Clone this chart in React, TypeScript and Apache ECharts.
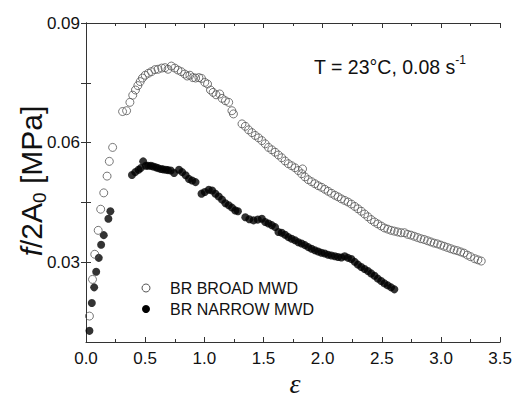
import React, { useEffect, useRef } from "react";
import * as echarts from "echarts";

const xTickLabels = ["0.0", "0.5", "1.0", "1.5", "2.0", "2.5", "3.0", "3.5"];
const yTickLabels = ["0.03", "0.06", "0.09"];
const yMinorTicks = [0.045, 0.075];
const seriesNames = ["BR BROAD MWD", "BR NARROW MWD"];
const annotation = "T = 23°C, 0.08 s";
const annotationSup = "-1";

const broadMWD: [number, number][] = [
  [0.029, 0.0165], [0.055, 0.0257], [0.074, 0.032], [0.103, 0.038], [0.124, 0.0433],
  [0.15, 0.0474], [0.178, 0.0516], [0.197, 0.0553], [0.225, 0.0588],
  [0.309, 0.0678], [0.343, 0.068], [0.371, 0.0701], [0.395, 0.0719], [0.418, 0.0732],
  [0.438, 0.0743], [0.458, 0.0753], [0.477, 0.0762], [0.5, 0.0769], [0.528, 0.0774],
  [0.553, 0.0778], [0.582, 0.0783], [0.609, 0.0784], [0.64, 0.0787], [0.668, 0.0788],
  [0.693, 0.0784], [0.721, 0.0792], [0.75, 0.0787], [0.777, 0.0782], [0.805, 0.0778],
  [0.834, 0.0772], [0.855, 0.0767], [0.878, 0.0769], [0.903, 0.0763], [0.926, 0.0762],
  [0.954, 0.0763], [0.976, 0.0761], [1.004, 0.0751], [1.027, 0.0747], [1.052, 0.0732],
  [1.074, 0.0726], [1.099, 0.072], [1.13, 0.0722], [1.15, 0.0711], [1.178, 0.0705],
  [1.206, 0.0701], [1.233, 0.068], [1.246, 0.0672], [1.318, 0.0647], [1.346, 0.0641],
  [1.374, 0.0632], [1.402, 0.0625], [1.43, 0.0618], [1.458, 0.0612], [1.486, 0.0605],
  [1.514, 0.0597], [1.542, 0.0588], [1.57, 0.0582], [1.598, 0.0576], [1.626, 0.0569],
  [1.654, 0.0562], [1.682, 0.0554], [1.71, 0.0547], [1.738, 0.0542], [1.766, 0.0537],
  [1.794, 0.053], [1.822, 0.0522], [1.83, 0.0534], [1.85, 0.0514], [1.878, 0.0507],
  [1.906, 0.0502], [1.934, 0.0497], [1.962, 0.0492], [1.99, 0.0488], [2.018, 0.0483],
  [2.046, 0.0478], [2.074, 0.0473], [2.103, 0.0468], [2.13, 0.0464], [2.158, 0.0459],
  [2.186, 0.0455], [2.214, 0.0451], [2.242, 0.0446], [2.271, 0.044], [2.298, 0.0434],
  [2.326, 0.0428], [2.354, 0.0421], [2.382, 0.0414], [2.41, 0.0407], [2.438, 0.0401],
  [2.466, 0.0396], [2.494, 0.0391], [2.522, 0.0386], [2.55, 0.0383], [2.578, 0.038],
  [2.606, 0.0378], [2.634, 0.0376], [2.662, 0.0374], [2.691, 0.0374], [2.718, 0.037],
  [2.746, 0.0368], [2.774, 0.0365], [2.802, 0.0362], [2.83, 0.0359], [2.858, 0.0357],
  [2.886, 0.0354], [2.914, 0.0351], [2.942, 0.0348], [2.97, 0.0346], [2.998, 0.0343],
  [3.026, 0.034], [3.054, 0.0337], [3.082, 0.0334], [3.11, 0.0331], [3.138, 0.0329],
  [3.166, 0.0326], [3.194, 0.0323], [3.223, 0.0318], [3.25, 0.0314], [3.284, 0.0309],
  [3.312, 0.0306], [3.34, 0.0303],
];

const narrowMWD: [number, number][] = [
  [0.029, 0.0128], [0.049, 0.0198], [0.069, 0.0237], [0.086, 0.0276], [0.108, 0.0311],
  [0.128, 0.0344], [0.15, 0.0368], [0.189, 0.0409], [0.206, 0.0428],
  [0.388, 0.0519], [0.416, 0.0526], [0.444, 0.0532], [0.462, 0.0536], [0.483, 0.0553],
  [0.506, 0.0542], [0.525, 0.0542], [0.548, 0.0542], [0.567, 0.054], [0.59, 0.0538],
  [0.609, 0.0536], [0.632, 0.0534], [0.651, 0.0533], [0.674, 0.0532], [0.693, 0.0531],
  [0.716, 0.053], [0.744, 0.0524],
  [0.786, 0.0532], [0.813, 0.0526], [0.842, 0.0518], [0.87, 0.0509], [0.897, 0.0505],
  [0.926, 0.0501],
  [0.976, 0.0472], [1.004, 0.0476], [1.038, 0.0482], [1.066, 0.048], [1.094, 0.0472],
  [1.122, 0.0465], [1.15, 0.0457], [1.178, 0.0448], [1.206, 0.0443], [1.234, 0.0437],
  [1.262, 0.043], [1.284, 0.0428],
  [1.346, 0.0413], [1.38, 0.0408], [1.416, 0.0405], [1.452, 0.0407], [1.486, 0.0409],
  [1.514, 0.0401], [1.542, 0.0397], [1.57, 0.0393], [1.598, 0.0388], [1.626, 0.0376],
  [1.654, 0.0374], [1.682, 0.0369], [1.71, 0.0363], [1.738, 0.0359], [1.766, 0.0355],
  [1.794, 0.035], [1.822, 0.0347], [1.85, 0.0343], [1.878, 0.0338], [1.906, 0.0334],
  [1.934, 0.033], [1.962, 0.0327], [1.99, 0.0324], [2.018, 0.0322], [2.046, 0.0319],
  [2.074, 0.0317], [2.103, 0.0315], [2.13, 0.0313], [2.158, 0.0312], [2.186, 0.0315],
  [2.214, 0.0311], [2.242, 0.0308], [2.271, 0.0301], [2.298, 0.0294], [2.326, 0.0288],
  [2.354, 0.0283], [2.382, 0.0278], [2.41, 0.0272], [2.438, 0.0266], [2.466, 0.0259],
  [2.494, 0.0253], [2.522, 0.0247], [2.55, 0.0242], [2.578, 0.0237], [2.606, 0.0232],
];

const FONT = "'Liberation Sans', Arial, sans-serif";
const AXIS_COLOR = "#333";
const OPEN_STROKE = "#555";

export default function App() {
  const ref = useRef<HTMLDivElement>(null);
  useEffect(() => {
    if (!ref.current) return;
    const chart = echarts.init(ref.current, null, { renderer: "svg" });
    const yMajor = yTickLabels.map(Number);
    const yTicks = [...yMajor, ...yMinorTicks].sort((a, b) => a - b);
    const tickStyle = { show: true, inside: true, length: 5, lineStyle: { color: AXIS_COLOR, width: 1 } };
    const minorStyle = { show: true, splitNumber: 2, length: 3, lineStyle: { color: AXIS_COLOR, width: 1 } };
    const lineStyle = { show: true, lineStyle: { color: AXIS_COLOR, width: 1 } };
    const legendText = (y: number, text: string) => ({
      type: "text",
      x: 170,
      y,
      style: { text, fontFamily: FONT, fontSize: 16, fill: "#111", align: "left", verticalAlign: "middle" },
    });
    chart.setOption({
      animation: false,
      backgroundColor: "#fff",
      grid: { left: 86, right: 12, top: 23, bottom: 55 },
      xAxis: [
        {
          type: "value",
          min: 0,
          max: 3.5,
          interval: 0.5,
          axisLine: lineStyle,
          axisTick: tickStyle,
          minorTick: minorStyle,
          splitLine: { show: false },
          axisLabel: {
            fontFamily: FONT,
            fontSize: 17,
            color: "#111",
            margin: 8,
            formatter: (v: number) => xTickLabels[Math.round(v / 0.5)] ?? "",
          },
        },
        {
          type: "value",
          position: "top",
          min: 0,
          max: 3.5,
          interval: 0.5,
          axisLine: lineStyle,
          axisTick: tickStyle,
          minorTick: minorStyle,
          splitLine: { show: false },
          axisLabel: { show: false },
        },
      ],
      yAxis: [
        {
          type: "value",
          min: 0.01,
          max: 0.09,
          axisLine: lineStyle,
          axisTick: { ...tickStyle, customValues: yTicks },
          splitLine: { show: false },
          axisLabel: {
            fontFamily: FONT,
            fontSize: 17,
            color: "#111",
            margin: 6,
            customValues: yMajor,
            formatter: (v: number) => v.toFixed(2),
          },
        },
        {
          type: "value",
          position: "right",
          min: 0.01,
          max: 0.09,
          axisLine: lineStyle,
          axisTick: { ...tickStyle, customValues: yTicks },
          splitLine: { show: false },
          axisLabel: { show: false },
        },
      ],
      graphic: [
        {
          type: "text",
          x: 31,
          y: 181,
          rotation: Math.PI / 2,
          style: {
            text: "{i|f}{n|/2A}{s|0}{n| [MPa]}",
            align: "center",
            verticalAlign: "middle",
            rich: {
              i: { fontFamily: FONT, fontSize: 30, fontStyle: "italic", lineHeight: 34, fill: "#111" },
              n: { fontFamily: FONT, fontSize: 30, lineHeight: 34, fill: "#111" },
              s: { fontFamily: FONT, fontSize: 19, lineHeight: 19, padding: [17, 0, 0, 0], fill: "#111" },
            },
          },
        },
        {
          type: "text",
          x: 295,
          y: 383,
          style: {
            text: "ε",
            fontFamily: "'Liberation Serif', 'Times New Roman', serif",
            fontStyle: "italic",
            fontSize: 28,
            fill: "#111",
            align: "center",
            verticalAlign: "middle",
          },
        },
        {
          type: "text",
          x: 466,
          y: 65,
          style: {
            text: "{a|" + annotation + "}{b|" + annotationSup + "}",
            align: "right",
            verticalAlign: "middle",
            rich: {
              a: { fontFamily: FONT, fontSize: 19.5, lineHeight: 23, verticalAlign: "bottom", fill: "#111" },
              b: { fontFamily: FONT, fontSize: 12, lineHeight: 12, verticalAlign: "top", fill: "#111" },
            },
          },
        },
        {
          type: "circle",
          shape: { cx: 146, cy: 288, r: 4 },
          style: { fill: "none", stroke: OPEN_STROKE, lineWidth: 1 },
        },
        legendText(288, seriesNames[0]),
        {
          type: "circle",
          shape: { cx: 146, cy: 309, r: 4 },
          style: { fill: "#000" },
        },
        legendText(309, seriesNames[1]),
      ],
      series: [
        {
          name: seriesNames[0],
          type: "scatter",
          data: broadMWD,
          symbol: "circle",
          symbolSize: 8,
          itemStyle: { color: "rgba(255,255,255,0)", borderColor: OPEN_STROKE, borderWidth: 1 },
          z: 3,
        },
        {
          name: seriesNames[1],
          type: "scatter",
          data: narrowMWD,
          symbol: "circle",
          symbolSize: 8,
          itemStyle: { color: "#000" },
          z: 2,
        },
      ],
    });
    return () => chart.dispose();
  }, []);
  return (
    <div
      ref={ref}
      style={{ position: "fixed", left: 0, top: 0, width: 515, height: 397, background: "#fff" }}
    />
  );
}
